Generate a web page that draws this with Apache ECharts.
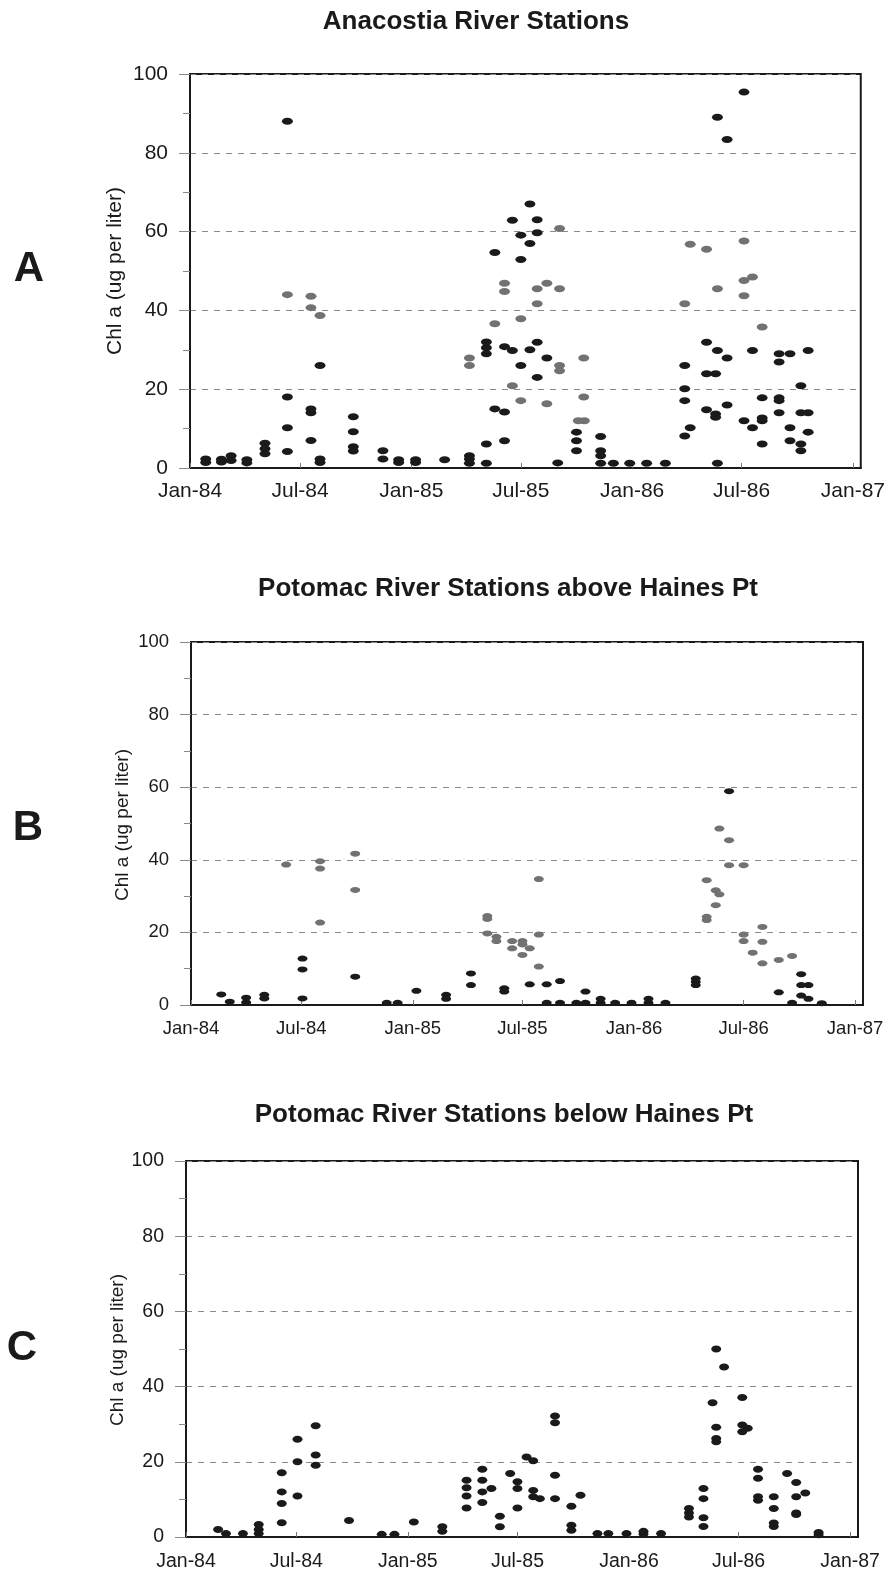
<!DOCTYPE html>
<html><head><meta charset="utf-8">
<script src="https://cdn.jsdelivr.net/npm/echarts@6/dist/echarts.min.js"></script>
<style>html,body{margin:0;padding:0;background:#fff}#c{width:888px;height:1578px}</style>
</head><body><div id="c"></div>
<script>
// ---------- data ----------
const xTickDates = ['1984-01-01','1984-07-01','1985-01-01','1985-07-01','1986-01-01','1986-07-01','1987-01-01'];
const monthNames = ['Jan','Feb','Mar','Apr','May','Jun','Jul','Aug','Sep','Oct','Nov','Dec'];
const yTicks = [0, 20, 40, 60, 80, 100];
const panelTitles = ['Anacostia River Stations','Potomac River Stations above Haines Pt','Potomac River Stations below Haines Pt'];
const panelLetters = ['A','B','C'];
const yAxisName = 'Chl a (ug per liter)';

const anacostiaDark = [
['1984-01-27',2.3],['1984-01-27',1.4],['1984-02-22',2.2],['1984-02-22',1.5],['1984-03-09',3.1],['1984-03-09',1.9],
['1984-04-04',2.1],['1984-04-04',1.3],['1984-05-04',6.3],['1984-05-04',4.9],['1984-05-04',3.6],
['1984-06-10',88],['1984-06-10',18],['1984-06-10',10.2],['1984-06-10',4.2],
['1984-07-19',15],['1984-07-19',14],['1984-07-19',7],['1984-08-03',26],['1984-08-03',2.3],['1984-08-03',1.4],
['1984-09-27',13],['1984-09-27',9.2],['1984-09-27',5.4],['1984-09-27',4.3],['1984-11-15',4.4],['1984-11-15',2.3],
['1984-12-11',2.1],['1984-12-11',1.4],['1985-01-08',2.1],['1985-01-08',1.4],['1985-02-25',2.1],
['1985-04-07',3.1],['1985-04-07',2.3],['1985-04-07',1.2],
['1985-05-05',32],['1985-05-05',30.5],['1985-05-05',29],['1985-05-05',6.1],['1985-05-05',1.2],
['1985-05-19',54.7],['1985-05-19',15],['1985-06-04',30.8],['1985-06-04',14.2],['1985-06-04',6.9],
['1985-06-17',62.9],['1985-06-17',29.8],['1985-07-01',59.1],['1985-07-01',52.9],['1985-07-01',26],
['1985-07-16',67],['1985-07-16',57],['1985-07-16',30],['1985-07-28',63],['1985-07-28',59.7],['1985-07-28',31.9],['1985-07-28',23],
['1985-08-13',27.9],['1985-08-31',1.3],['1985-10-01',9.1],['1985-10-01',6.9],['1985-10-01',4.4],
['1985-11-10',8],['1985-11-10',4.4],['1985-11-10',3.1],['1985-11-10',1.2],
['1985-12-01',1.2],['1985-12-28',1.2],['1986-01-25',1.2],['1986-02-25',1.2],
['1986-03-29',26],['1986-03-29',20.1],['1986-03-29',17.1],['1986-03-29',8.1],['1986-04-07',10.2],
['1986-05-04',31.9],['1986-05-04',23.9],['1986-05-04',14.8],['1986-05-19',23.9],['1986-05-19',13.7],['1986-05-19',12.9],
['1986-05-22',89],['1986-05-22',29.8],['1986-05-22',1.2],['1986-06-07',83.4],['1986-06-07',27.9],['1986-06-07',16],
['1986-07-05',95.4],['1986-07-05',12],['1986-07-19',29.8],['1986-07-19',10.2],
['1986-08-04',17.8],['1986-08-04',12.7],['1986-08-04',12],['1986-08-04',6.1],
['1986-09-01',29],['1986-09-01',26.9],['1986-09-01',17.8],['1986-09-01',17.1],['1986-09-01',14],
['1986-09-19',29],['1986-09-19',10.2],['1986-09-19',6.9],
['1986-10-07',20.9],['1986-10-07',14],['1986-10-07',6.1],['1986-10-07',4.4],
['1986-10-19',29.8],['1986-10-19',14],['1986-10-19',9.1]
];
const anacostiaGray = [
['1984-06-10',44],['1984-07-19',43.6],['1984-07-19',40.7],['1984-08-03',38.7],
['1985-04-07',27.9],['1985-04-07',26],['1985-05-19',36.6],['1985-06-04',46.9],['1985-06-04',44.8],
['1985-06-17',20.9],['1985-07-01',37.9],['1985-07-01',17.1],['1985-07-28',45.5],['1985-07-28',41.7],
['1985-08-13',46.9],['1985-08-13',16.3],['1985-09-03',60.8],['1985-09-03',45.5],['1985-09-03',26],['1985-09-03',24.7],
['1985-10-13',27.9],['1985-10-13',18],['1985-10-04',12],['1985-10-14',12],
['1986-03-29',41.7],['1986-04-07',56.8],['1986-05-04',55.5],['1986-05-22',45.5],
['1986-07-05',57.6],['1986-07-05',47.6],['1986-07-05',43.7],['1986-07-19',48.5],['1986-08-04',35.8]
];
const aboveDark = [
['1984-02-20',2.9],['1984-03-05',0.9],['1984-04-01',2],['1984-04-01',0.7],['1984-05-01',2.8],['1984-05-01',1.8],
['1984-07-03',12.8],['1984-07-03',9.8],['1984-07-03',1.8],['1984-09-28',7.8],
['1984-11-19',0.6],['1984-12-07',0.6],['1985-01-07',3.9],['1985-02-25',2.8],['1985-02-25',1.7],
['1985-04-07',8.7],['1985-04-07',5.5],['1985-06-01',4.6],['1985-06-01',3.7],
['1985-07-13',5.7],['1985-08-10',5.7],['1985-08-10',0.6],['1985-09-01',6.6],['1985-09-01',0.6],
['1985-09-28',0.6],['1985-10-13',3.7],['1985-10-13',0.6],['1985-11-07',1.7],['1985-11-07',0.6],
['1985-12-01',0.6],['1985-12-28',0.6],['1986-01-25',1.7],['1986-01-25',0.6],['1986-02-22',0.6],
['1986-04-13',7.3],['1986-04-13',6.4],['1986-04-13',5.5],['1986-06-07',58.9],
['1986-08-28',3.5],['1986-09-19',0.6],['1986-10-04',8.5],['1986-10-04',5.5],['1986-10-04',2.6],
['1986-10-16',5.5],['1986-10-16',1.7],['1986-11-07',0.5]
];
const aboveGray = [
['1984-06-06',38.7],['1984-08-01',39.6],['1984-08-01',37.6],['1984-08-01',22.7],['1984-09-28',41.7],['1984-09-28',31.7],
['1985-05-04',24.5],['1985-05-04',23.7],['1985-05-04',19.7],['1985-05-19',18.8],['1985-05-19',17.6],
['1985-06-14',17.6],['1985-06-14',15.6],['1985-07-01',17.6],['1985-07-01',16.7],['1985-07-01',13.8],
['1985-07-13',15.6],['1985-07-28',34.7],['1985-07-28',19.4],['1985-07-28',10.6],
['1986-05-01',34.4],['1986-05-01',24.3],['1986-05-01',23.4],['1986-05-16',31.6],['1986-05-16',27.5],
['1986-05-22',48.6],['1986-05-22',30.5],['1986-06-07',45.4],['1986-06-07',38.5],
['1986-07-01',38.5],['1986-07-01',19.4],['1986-07-01',17.6],['1986-07-16',14.4],
['1986-08-01',21.5],['1986-08-01',17.4],['1986-08-01',11.5],['1986-08-28',12.4],['1986-09-19',13.5]
];
const belowDark = [
['1984-02-23',2],['1984-03-07',0.9],['1984-04-04',0.9],['1984-04-30',3.3],['1984-04-30',2],['1984-04-30',0.9],
['1984-06-07',17.1],['1984-06-07',12],['1984-06-07',8.9],['1984-06-07',3.8],
['1984-07-03',26],['1984-07-03',20],['1984-07-03',10.9],['1984-08-02',29.6],['1984-08-02',21.8],['1984-08-02',19.1],
['1984-09-26',4.4],['1984-11-19',0.7],['1984-12-10',0.7],['1985-01-11',4],['1985-02-27',2.7],['1985-02-27',1.5],
['1985-04-08',15.1],['1985-04-08',13.1],['1985-04-08',10.9],['1985-04-08',7.7],
['1985-05-04',18],['1985-05-04',15.1],['1985-05-04',12],['1985-05-04',9.2],['1985-05-19',12.9],
['1985-06-02',5.5],['1985-06-02',2.7],['1985-06-19',16.9],['1985-07-01',14.7],['1985-07-01',12.9],['1985-07-01',7.7],
['1985-07-16',21.3],['1985-07-27',20.3],['1985-07-27',12.4],['1985-07-27',10.7],['1985-08-07',10.2],
['1985-09-01',32.2],['1985-09-01',30.4],['1985-09-01',16.4],['1985-09-01',10.2],
['1985-09-28',8.2],['1985-09-28',3.1],['1985-09-28',1.8],['1985-10-13',11.1],
['1985-11-10',0.9],['1985-11-28',0.9],['1985-12-28',0.9],['1986-01-25',1.5],['1986-01-25',0.8],['1986-02-23',0.9],
['1986-04-10',7.6],['1986-04-10',6.4],['1986-04-10',5.3],
['1986-05-04',12.9],['1986-05-04',10.2],['1986-05-04',5.1],['1986-05-04',2.8],['1986-05-19',35.7],
['1986-05-25',50],['1986-05-25',29.2],['1986-05-25',26.2],['1986-05-25',25.3],['1986-06-07',45.2],
['1986-07-07',37.1],['1986-07-07',29.8],['1986-07-07',28],['1986-07-16',28.9],
['1986-08-02',18],['1986-08-02',15.6],['1986-08-02',10.7],['1986-08-02',9.8],
['1986-08-28',10.7],['1986-08-28',7.6],['1986-08-28',3.7],['1986-08-28',2.8],['1986-09-19',16.9],
['1986-10-04',14.5],['1986-10-04',10.7],['1986-10-04',6.4],['1986-10-04',6],['1986-10-19',11.7],
['1986-11-10',1.2],['1986-11-10',0.6]
];
const panelSeries = [
  [anacostiaGray, anacostiaDark],
  [aboveGray, aboveDark],
  [[], belowDark]
];

// ---------- layout / style ----------
const layout = [
  {left:190, top:74,   width:673, height:394, tick:21,   name:21, nameX:115, nameY:271,  titleX:476, titleY:22,   letterX:29, letterY:269,  sym:[11,7], lm:13},
  {left:191, top:642,  width:672, height:363, tick:18.5, name:19, nameX:123, nameY:825,  titleX:508, titleY:589,  letterX:28, letterY:828,  sym:[10,6], lm:14},
  {left:186, top:1161, width:672, height:376, tick:19.5, name:19, nameX:118, nameY:1350, titleX:504, titleY:1115, letterX:22, letterY:1348, sym:[10,7], lm:15}
];
const toMs = s => Date.parse(s + 'T00:00:00Z');
const xMin = toMs('1984-01-01'), xMax = toMs('1987-01-14');
const tickMs = xTickDates.map(toMs);
const fmt = v => { const d = new Date(v); return monthNames[d.getUTCMonth()] + '-' + String(d.getUTCFullYear()).slice(2); };
const FONT = '"Liberation Sans", Arial, sans-serif';
const INK = '#1a1a1a', GRAY = '#727272';

const grid = [], xAxis = [], yAxis = [], series = [], graphic = [];
layout.forEach((L, i) => {
  grid.push({left:L.left, top:L.top, width:L.width, height:L.height, show:true, borderColor:INK, borderWidth:2});
  xAxis.push({gridIndex:i, type:'value', min:xMin, max:xMax,
    axisLine:{show:true, onZero:false, lineStyle:{color:INK, width:2}},
    axisTick:{show:true, inside:true, length:5, customValues:tickMs, lineStyle:{color:'#777'}},
    axisLabel:{customValues:tickMs, formatter:fmt, fontSize:L.tick, fontFamily:FONT, color:INK, margin:L.lm, hideOverlap:false},
    splitLine:{show:false}});
  yAxis.push({gridIndex:i, type:'value', min:yTicks[0], max:yTicks[yTicks.length-1], interval:20,
    axisLine:{show:true, lineStyle:{color:INK, width:2}},
    axisTick:{show:true, length:11, lineStyle:{color:'#8a8a8a'}},
    minorTick:{show:true, splitNumber:2, length:7, lineStyle:{color:'#8a8a8a'}},
    axisLabel:{fontSize:L.tick, fontFamily:FONT, color:INK, margin:22},
    splitLine:{show:true, lineStyle:{color:'#8a8a8a', width:1, type:[6,6]}}});
  const [g, d] = panelSeries[i];
  [[g, GRAY], [d, INK]].forEach(([arr, col]) => {
    if (!arr.length) return;
    series.push({type:'scatter', xAxisIndex:i, yAxisIndex:i, symbol:'circle', symbolSize:L.sym,
      itemStyle:{color:col, opacity:1}, silent:true,
      data: arr.map(p => [toMs(p[0]), p[1]])});
  });
  graphic.push({type:'text', x:L.titleX, y:L.titleY, style:{text:panelTitles[i], font:'bold 26px ' + FONT, fill:INK, textAlign:'center', textVerticalAlign:'middle'}});
  graphic.push({type:'text', x:L.letterX, y:L.letterY, style:{text:panelLetters[i], font:'bold 42px ' + FONT, fill:INK, textAlign:'center', textVerticalAlign:'middle'}});
  graphic.push({type:'text', x:L.nameX, y:L.nameY, rotation:Math.PI/2, style:{text:yAxisName, font:L.name + 'px ' + FONT, fill:INK, textAlign:'center', textVerticalAlign:'middle'}});
});

const chart = echarts.init(document.getElementById('c'), null, {renderer:'canvas'});
chart.setOption({animation:false, backgroundColor:'#fff', grid, xAxis, yAxis, series, graphic});
</script></body></html>
